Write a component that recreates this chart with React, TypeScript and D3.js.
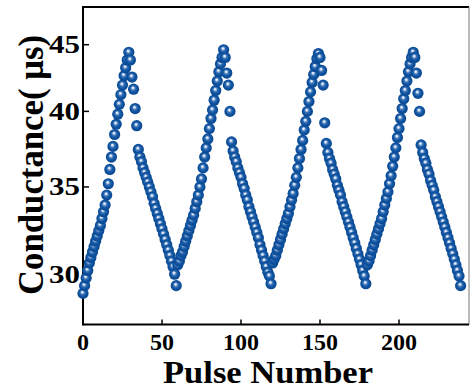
import React from "react";
import * as d3 from "d3";

const pot1 = [29.0,29.4,29.8,30.2,30.6,30.9,31.2,31.5,31.8,32.1,32.4,32.7,33.1,33.5,33.9,34.5,35.2,36.1,36.9,37.6,38.4,39.1,39.8,40.5,41.2,41.9,42.6,43.2,43.8,44.4];
const dep1 = [43.8,42.5,41.6,40.2,39.0,37.4,36.9,36.6,36.2,35.9,35.6,35.3,35.0,34.7,34.4,34.0,33.7,33.4,33.1,32.8,32.5,32.2,31.9,31.6,31.3,31.0,30.7,30.4,30.0,29.4];
const pot2 = [30.5,30.7,31.0,31.2,31.5,31.8,32.1,32.4,32.7,33.0,33.3,33.7,34.1,34.5,35.0,35.5,36.2,36.9,37.5,38.1,38.8,39.5,40.1,40.8,41.5,42.2,42.9,43.5,44.0,44.6];
const dep2 = [44.0,42.8,41.9,40.0,37.9,37.3,36.9,36.6,36.2,35.9,35.6,35.2,34.9,34.5,34.2,33.8,33.5,33.2,32.9,32.6,32.3,32.0,31.6,31.3,31.0,30.7,30.4,30.1,29.9,29.5];
const pot3 = [30.6,30.8,31.0,31.3,31.6,31.9,32.2,32.5,32.8,33.1,33.4,33.8,34.2,34.6,35.1,35.6,36.2,36.8,37.4,38.0,38.7,39.3,40.0,40.7,41.4,42.1,42.7,43.3,43.9,44.3];
const dep3 = [44.0,43.0,41.9,39.2,37.8,37.2,36.8,36.5,36.1,35.8,35.5,35.1,34.8,34.5,34.1,33.8,33.5,33.2,32.9,32.6,32.3,32.0,31.7,31.4,31.1,30.8,30.5,30.2,29.9,29.5];
const pot4 = [30.5,30.7,31.0,31.3,31.6,31.9,32.2,32.5,32.8,33.1,33.5,33.9,34.3,34.7,35.2,35.7,36.3,36.9,37.5,38.2,38.8,39.5,40.2,40.9,41.5,42.2,42.9,43.5,44.0,44.4];
const dep4 = [44.0,42.8,41.3,40.0,37.7,37.2,36.8,36.5,36.1,35.8,35.4,35.1,34.8,34.4,34.1,33.8,33.5,33.2,32.9,32.6,32.3,32.0,31.7,31.4,31.1,30.8,30.5,30.2,29.9,29.4];

const xTicks = [0, 50, 100, 150, 200];
const yTicks = [30, 35, 40, 45];
const xTitle = "Pulse Number";
const yTitle = "Conductance( μs)";

const conductance = [...pot1, ...dep1, ...pot2, ...dep2, ...pot3, ...dep3, ...pot4, ...dep4];
const points = conductance.map((v, i) => ({ pulse: i, value: v }));

const W = 471, H = 390;
const left = 83, right = 469, top = 7, bottom = 324.5;

export default function App() {
  const x = d3.scaleLinear().domain([0, 244.3]).range([left, right]);
  const y = d3.scaleLog().domain([27.45, 48.1]).range([bottom, top]);
  const font = "'Liberation Serif', 'Times New Roman', serif";
  return (
    <svg width={W} height={H} style={{ position: "absolute", left: 0, top: 0, background: "#fff" }}>
      <defs>
        <radialGradient id="ball" cx="0.5" cy="0.5" r="0.52" fx="0.43" fy="0.36">
          <stop offset="0" stopColor="#ffffff" />
          <stop offset="0.14" stopColor="#d2e1f3" />
          <stop offset="0.38" stopColor="#3a72b7" />
          <stop offset="0.65" stopColor="#0e529f" />
          <stop offset="1" stopColor="#0a4891" />
        </radialGradient>
      </defs>
      {/* frame */}
      <line x1={left} x2={right} y1={top} y2={top} stroke="#000" strokeWidth={2} />
      <line x1={right} x2={right} y1={top} y2={bottom} stroke="#777" strokeWidth={1} />
      <line x1={left} x2={left} y1={top - 1} y2={bottom + 1} stroke="#000" strokeWidth={2} />
      <line x1={left} x2={right} y1={bottom} y2={bottom} stroke="#000" strokeWidth={2} />
      {xTicks.map((t) => (
        <g key={"x" + t}>
          <line x1={x(t)} x2={x(t)} y1={bottom} y2={bottom - 5} stroke="#000" strokeWidth={1.5} />
          <text x={x(t)} y={350} textAnchor="middle" fontFamily={font} fontWeight="bold" fontSize={24}>
            {t}
          </text>
        </g>
      ))}
      {yTicks.map((t) => (
        <g key={"y" + t}>
          <line x1={left} x2={left + 6} y1={y(t)} y2={y(t)} stroke="#000" strokeWidth={1.5} />
          <text x={80} y={y(t) + 8.5} textAnchor="end" fontFamily={font} fontWeight="bold" fontSize={25}
            textLength={31} lengthAdjust="spacingAndGlyphs">
            {t}
          </text>
        </g>
      ))}
      {points.map((p) => (
        <circle key={p.pulse} cx={x(p.pulse)} cy={y(p.value)} r={5.6} fill="url(#ball)" />
      ))}
      <text x={268} y={383} textAnchor="middle" fontFamily={font} fontWeight="bold" fontSize={31}
        textLength={210} lengthAdjust="spacingAndGlyphs">
        {xTitle}
      </text>
      <text transform={`translate(43,165) rotate(-90)`} textAnchor="middle" fontFamily={font} fontWeight="bold"
        fontSize={35} textLength={260} lengthAdjust="spacingAndGlyphs">
        {yTitle}
      </text>
    </svg>
  );
}
